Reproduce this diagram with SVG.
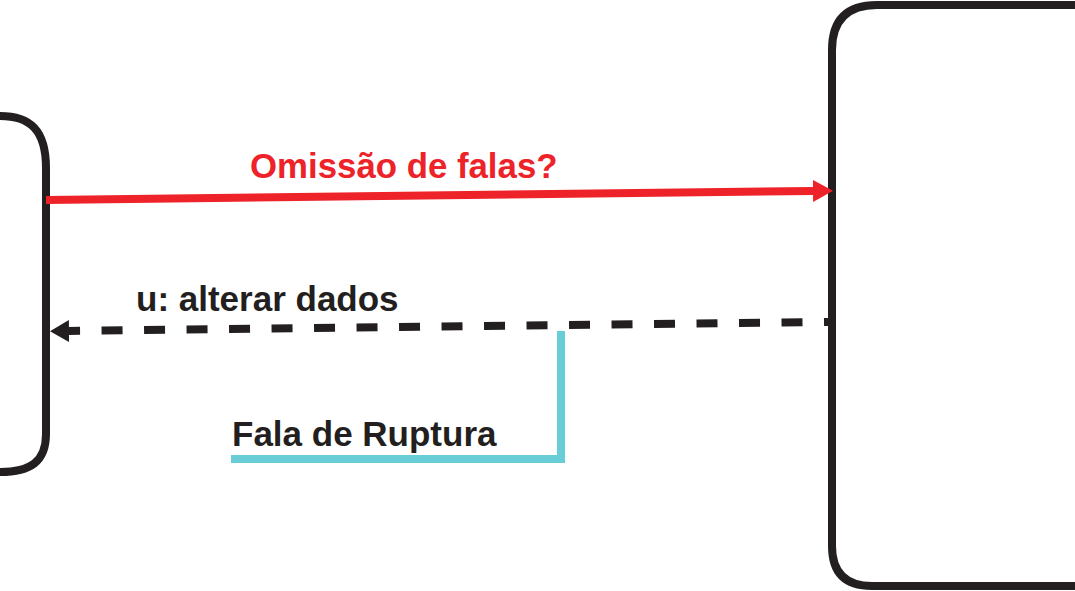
<svg xmlns="http://www.w3.org/2000/svg" width="1075" height="591" viewBox="0 0 1075 591">
<style>
.frame{fill:none;stroke:#231f20;stroke-width:8}
.lbl{font-family:"Liberation Sans",Arial,sans-serif;font-weight:bold}
</style>
<defs>
<marker id="redHead" markerUnits="userSpaceOnUse" markerWidth="22" markerHeight="24" refX="0" refY="12" orient="auto">
<polygon points="0,1 20,12 0,23" fill="#ed2329"/>
</marker>
<marker id="blackHead" markerUnits="userSpaceOnUse" markerWidth="22" markerHeight="24" refX="0" refY="11" orient="auto">
<polygon points="0,0 19,11 0,22" fill="#231f20"/>
</marker>
</defs>
<rect width="1075" height="591" fill="#fff"/>
<g id="left-node">
<path class="frame" d="M0,116 C30,116 46,130 46,168 L46,434 C46,462 30,472 0,472"/>
</g>
<g id="right-node">
<path class="frame" d="M1080,5 L877,5 Q832,5 832,50 L832,546 Q832,586 872,586 L1080,586"/>
</g>
<g id="connectors">
<line x1="46" y1="200" x2="813" y2="191" stroke="#ed2329" stroke-width="8" marker-end="url(#redHead)"/>
<line x1="828" y1="322" x2="69" y2="331" stroke="#231f20" stroke-width="8" stroke-dasharray="21 21.5" stroke-dashoffset="17" marker-end="url(#blackHead)"/>
<polyline points="561,331 561,459 231,459" fill="none" stroke="#68cdd7" stroke-width="8"/>
</g>
<g id="labels">
<text class="lbl" x="250" y="178" font-size="34.8" fill="#ed2329">Omissão de falas?</text>
<text class="lbl" x="136" y="311" font-size="35" fill="#231f20">u: alterar dados</text>
<text class="lbl" x="232" y="446" font-size="35" fill="#231f20">Fala de Ruptura</text>
</g>
</svg>
